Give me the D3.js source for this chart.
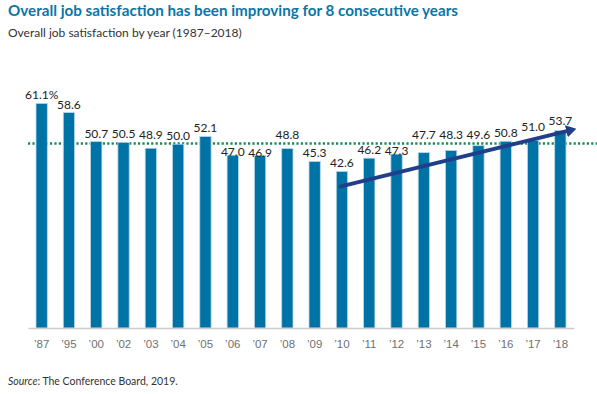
<!DOCTYPE html>
<html>
<head>
<meta charset="utf-8">
<style>
  body { margin: 0; background: #fff; }
  svg { display: block; font-family: Lato, "Open Sans", sans-serif; }
  .title { font-size: 15.2px; font-weight: 700; fill: #0a76a7; }
  .subtitle { font-size: 12px; fill: #333; }
  .source { font-size: 10.5px; fill: #333; }
  .val { font-size: 12px; fill: #222; text-anchor: middle; }
  .tick text { font-size: 11.5px; fill: #707070; }
</style>
<script src="https://d3js.org/d3.v7.min.js"></script>
</head>
<body>
<div id="chart"></div>
<script>
// data
var years = ["87", "95", "00", "02", "03", "04", "05", "06", "07", "08",
             "09", "10", "11", "12", "13", "14", "15", "16", "17", "18"];
var values = [61.1, 58.6, 50.7, 50.5, 48.9, 50.0, 52.1, 47.0, 46.9, 48.8,
              45.3, 42.6, 46.2, 47.3, 47.7, 48.3, 49.6, 50.8, 51.0, 53.7];
var refLevel = 50.2;              // dotted reference line
var trendFrom = {year: "10", value: 38.4};
var trendTo = {year: "18", value: 54.1};

var W = 597, H = 394;
var svg = d3.select("#chart").append("svg")
    .attr("width", W)
    .attr("height", H);

var x = d3.scaleBand()
    .domain(years)
    .range([28, 574])
    .paddingInner(0.586)
    .paddingOuter(0.293);

var y = d3.scaleLinear()
    .domain([0, 70])
    .range([328, 328 - 70 * 3.676]);

function cx(d) { return x(d) + x.bandwidth() / 2; }

// titles
svg.append("text").attr("class", "title")
    .attr("x", 8).attr("y", 16)
    .text("Overall job satisfaction has been improving for 8 consecutive years");
svg.append("text").attr("class", "subtitle")
    .attr("x", 8).attr("y", 37)
    .text("Overall job satisfaction by year (1987\u20132018)");

// reference dotted line (behind bars)
var refY = y(refLevel);
svg.append("line")
    .attr("x1", 28).attr("x2", W)
    .attr("y1", refY).attr("y2", refY)
    .attr("stroke", "#178a58")
    .attr("stroke-width", 2.5)
    .attr("stroke-dasharray", "2.2,2.2");

// bars
svg.selectAll(".bar")
  .data(years)
  .enter().append("rect")
    .attr("class", "bar")
    .attr("x", function(d) { return x(d); })
    .attr("width", x.bandwidth())
    .attr("y", function(d, i) { return y(values[i]); })
    .attr("height", function(d, i) { return y(0) - y(values[i]); })
    .attr("fill", "#0073a6")
    .attr("stroke", "#b7d6e6")
    .attr("stroke-width", 0.8);

// x axis
var xAxis = svg.append("g")
    .attr("transform", "translate(0," + y(0) + ")")
    .call(d3.axisBottom(x).tickSize(0).tickPadding(12)
        .tickFormat(function(d) { return "\u2019" + d; }));
xAxis.select(".domain").attr("stroke", "#ccc").attr("stroke-width", 1.5);

// trend arrow end points in pixels
var ax1 = cx(trendFrom.year) - 3, ay1 = y(trendFrom.value);
var ax2 = cx(trendTo.year) + 6.5, ay2 = y(trendTo.value) + 2;
function arrowY(px) {
  if (px < ax1 || px > ax2 + 10) return null;
  return ay1 + (ay2 - ay1) * (px - ax1) / (ax2 - ax1);
}

// value labels, moved off the dotted line and the arrow
function labelBase(d, i) {
  var top = y(values[i]);
  var base = top - 4;
  if (base > refY - 2 && base - 8.5 < refY + 2) {
    base = top >= refY + 10 ? top + 1 : refY - 4.5;
  }
  var a = arrowY(cx(d));
  if (a !== null && base > a - 8 && base - 8.5 < a + 3) base = a - 8;
  return base;
}
svg.selectAll(".val")
  .data(years)
  .enter().append("text")
    .attr("class", "val")
    .attr("x", cx)
    .attr("y", labelBase)
    .text(function(d, i) { return values[i].toFixed(1) + (i === 0 ? "%" : ""); });

svg.append("defs").append("marker")
    .attr("id", "head")
    .attr("viewBox", "0 0 10 12")
    .attr("refX", 0.5).attr("refY", 6)
    .attr("markerWidth", 2.6).attr("markerHeight", 3.1)
    .attr("orient", "auto")
  .append("path")
    .attr("d", "M0,0L10,6L0,12z")
    .attr("fill", "#213e8b");

svg.append("line")
    .attr("x1", ax1).attr("y1", ay1)
    .attr("x2", ax2).attr("y2", ay2)
    .attr("stroke", "#213e8b")
    .attr("stroke-width", 4)
    .attr("marker-end", "url(#head)");

// source
var src = svg.append("text").attr("class", "source")
    .attr("x", 8).attr("y", 385);
src.append("tspan").style("font-style", "italic").text("Source");
src.append("tspan").text(": The Conference Board, 2019.");
</script>
</body>
</html>
